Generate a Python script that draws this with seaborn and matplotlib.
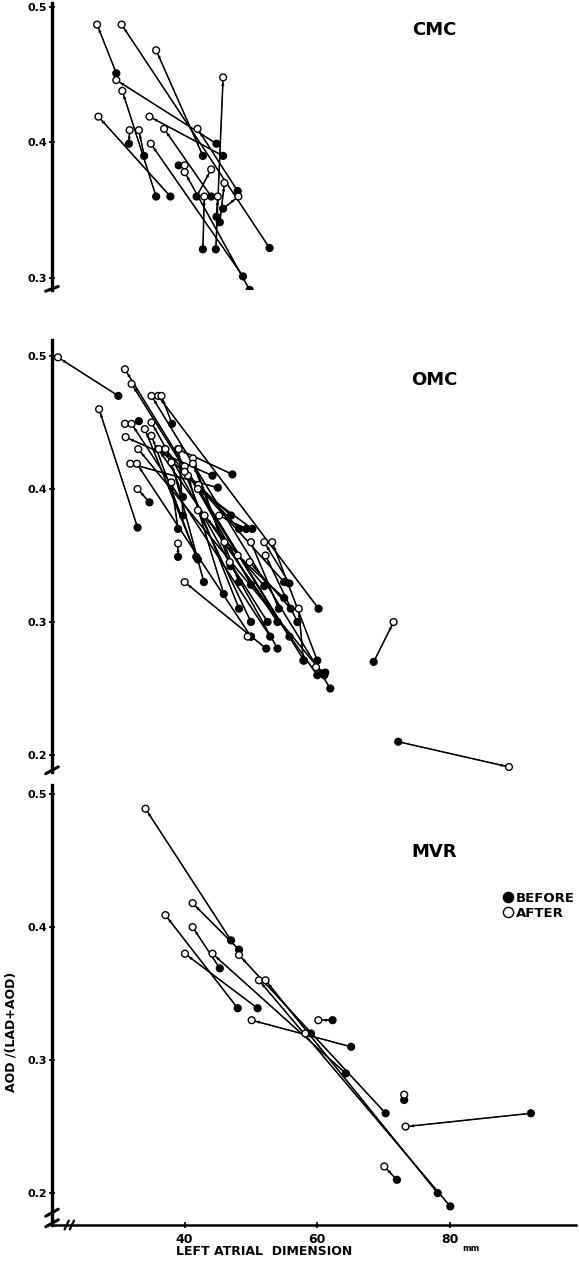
import matplotlib.pyplot as plt
import seaborn as sns
import pandas as pd

# CMC: before (filled) -> after (open), paired by index
cmc_before_x = [29.7, 52.8, 42.75, 44.8, 44.7, 35.7, 37.85, 45.8, 31.6, 33.9, 44.0, 39.1, 48.0, 48.8, 49.8, 41.8, 45.3, 42.75, 45.8, 44.8]
cmc_before_y = [0.451, 0.322, 0.390, 0.399, 0.321, 0.360, 0.360, 0.390, 0.399, 0.390, 0.360, 0.383, 0.364, 0.301, 0.291, 0.360, 0.341, 0.321, 0.351, 0.345]
cmc_after_x = [26.8, 30.5, 35.7, 29.7, 45.8, 30.6, 27.0, 34.7, 31.7, 33.1, 36.9, 40.0, 41.95, 34.9, 40.0, 44.0, 46.0, 42.96, 48.1, 45.0]
cmc_after_y = [0.487, 0.487, 0.468, 0.446, 0.448, 0.438, 0.419, 0.419, 0.409, 0.409, 0.410, 0.383, 0.410, 0.399, 0.378, 0.380, 0.370, 0.360, 0.360, 0.360]

# OMC
omc_before_x = [30.0, 55.8, 58.0, 61.95, 60.2, 32.9, 33.1, 52.9, 54.0, 44.2, 61.05, 60.0, 55.0, 47.2, 45.0,
                50.0, 34.7, 48.2, 49.3, 54.2, 55.8, 60.0, 39.0, 52.3, 57.9, 50.0, 61.2, 72.2, 68.5, 38.1,
                42.9, 45.9, 50.2, 47.0, 46.9, 48.2, 50.0, 48.2, 50.0, 52.0, 39.75, 39.75, 39.0, 54.0, 55.0,
                57.0, 52.5, 56.0, 41.75, 42.0]
omc_before_y = [0.470, 0.289, 0.271, 0.250, 0.310, 0.371, 0.451, 0.289, 0.280, 0.410, 0.260, 0.260, 0.330, 0.411, 0.401,
                0.289, 0.390, 0.370, 0.370, 0.310, 0.329, 0.271, 0.349, 0.280, 0.271, 0.289, 0.262, 0.210, 0.270, 0.449,
                0.330, 0.321, 0.370, 0.380, 0.342, 0.330, 0.328, 0.310, 0.300, 0.327, 0.394, 0.380, 0.370, 0.300, 0.318,
                0.300, 0.300, 0.310, 0.349, 0.347]
omc_after_x = [20.9, 31.0, 32.0, 35.0, 36.0, 27.1, 31.0, 32.0, 35.0, 31.1, 33.0, 36.0, 37.0, 39.0, 31.8,
               32.8, 32.9, 42.1, 45.2, 50.0, 52.0, 53.2, 39.0, 40.0, 57.2, 49.5, 59.8, 88.9, 71.5, 36.5,
               38.0, 40.5, 42.0, 36.1, 41.25, 41.25, 40.0, 40.0, 42.0, 43.0, 37.1, 39.1, 38.0, 46.0, 48.0,
               52.2, 46.8, 49.8, 35.0, 34.0]
omc_after_y = [0.499, 0.490, 0.479, 0.470, 0.470, 0.460, 0.449, 0.449, 0.450, 0.439, 0.430, 0.430, 0.430, 0.430, 0.419,
               0.419, 0.400, 0.403, 0.380, 0.360, 0.360, 0.360, 0.359, 0.330, 0.310, 0.289, 0.266, 0.191, 0.300, 0.470,
               0.420, 0.410, 0.400, 0.430, 0.423, 0.419, 0.417, 0.413, 0.384, 0.380, 0.430, 0.430, 0.405, 0.360, 0.350,
               0.350, 0.345, 0.345, 0.440, 0.445]

# MVR
mvr_before_x = [47.0, 48.2, 48.0, 45.3, 51.0, 64.3, 70.3, 80.05, 78.15, 65.1, 62.3, 59.05, 73.1, 92.2, 72.0]
mvr_before_y = [0.390, 0.383, 0.339, 0.369, 0.339, 0.290, 0.260, 0.190, 0.200, 0.310, 0.330, 0.320, 0.270, 0.260, 0.210]
mvr_after_x = [34.1, 41.2, 37.1, 41.2, 40.05, 44.2, 48.2, 51.2, 52.2, 50.1, 60.15, 58.2, 73.1, 73.3, 70.1]
mvr_after_y = [0.489, 0.418, 0.409, 0.400, 0.380, 0.380, 0.379, 0.360, 0.360, 0.330, 0.330, 0.320, 0.274, 0.250, 0.220]


def pairs_frame(bx, by, ax_, ay):
    rows = []
    for i in range(len(bx)):
        rows.append({"pair": i, "when": "BEFORE", "lad": bx[i], "ratio": by[i]})
        rows.append({"pair": i, "when": "AFTER", "lad": ax_[i], "ratio": ay[i]})
    return pd.DataFrame(rows)


sns.set_style("ticks")
plt.rcParams['font.family'] = ['DejaVu Sans']
plt.rcParams['font.weight'] = 'bold'
plt.rcParams.update({"text.color": "black", "axes.labelcolor": "black",
                     "xtick.color": "black", "ytick.color": "black",
                     "axes.edgecolor": "black"})

fig = plt.figure(figsize=(5.79, 12.65), dpi=100)
# [left, bottom, width, height] in figure fractions
ax1 = fig.add_axes([0.0898, 0.7708, 0.905, 0.2269])
ax2 = fig.add_axes([0.0898, 0.3897, 0.905, 0.3415])
ax3 = fig.add_axes([0.0898, 0.0316, 0.905, 0.3478])

panels = [
    (ax1, pairs_frame(cmc_before_x, cmc_before_y, cmc_after_x, cmc_after_y), "CMC", (0.291, 0.503), [0.3, 0.4, 0.5], 0.906),
    (ax2, pairs_frame(omc_before_x, omc_before_y, omc_after_x, omc_after_y), "OMC", (0.1872, 0.512), [0.2, 0.3, 0.4, 0.5], 0.907),
    (ax3, pairs_frame(mvr_before_x, mvr_before_y, mvr_after_x, mvr_after_y), "MVR", (0.176, 0.5068), [0.2, 0.3, 0.4, 0.5], 0.848),
]

for ax, df, name, ylim, yt, ty in panels:
    sns.lineplot(data=df, x="lad", y="ratio", units="pair", estimator=None, sort=False,
                 color="black", lw=1.1, ax=ax)
    # tiny arrow heads pointing at the "after" point
    for _, g in df.groupby("pair"):
        b = g[g["when"] == "BEFORE"].iloc[0]
        a = g[g["when"] == "AFTER"].iloc[0]
        ax.annotate("", xy=(a["lad"], a["ratio"]), xytext=(b["lad"], b["ratio"]),
                    arrowprops=dict(arrowstyle="-|>", color="black", lw=0.6,
                                    shrinkA=0, shrinkB=3.5, mutation_scale=4))
    sns.scatterplot(data=df, x="lad", y="ratio", hue="when", hue_order=["BEFORE", "AFTER"],
                    palette={"BEFORE": "black", "AFTER": "white"}, edgecolor="black",
                    linewidth=1.0, s=24, zorder=3, ax=ax, legend=(name == "MVR"))
    ax.set_xlim(20, 99)
    ax.set_ylim(*ylim)
    ax.set_yticks(yt)
    ax.set_yticklabels([f"{v:.1f}" for v in yt], fontsize=8, fontweight="bold")
    ax.tick_params(axis="y", direction="inout", length=5, width=1.2, pad=1)
    ax.spines["left"].set_linewidth(2.4)
    ax.spines["top"].set_visible(False)
    ax.spines["right"].set_visible(False)
    ax.set_ylabel("")
    ax.set_xlabel("")
    ax.text(0.73, ty, name, transform=ax.transAxes, fontsize=13, fontweight="bold",
            ha="center", va="center")
    # break mark at bottom of the y axis
    ax.plot([-0.012, 0.012], [-0.004, 0.012], transform=ax.transAxes, color="black",
            lw=2.2, clip_on=False)

for ax in (ax1, ax2):
    ax.spines["bottom"].set_visible(False)
    ax.set_xticks([])

# bottom panel x axis
ax3.spines["bottom"].set_linewidth(1.8)
ax3.set_xticks([40, 60, 80])
ax3.set_xticklabels(["40", "60", "80"], fontsize=9, fontweight="bold")
ax3.tick_params(axis="x", direction="inout", length=5, width=1.2, pad=3)
ax3.text(81.8, 0.176 - 0.0145, "mm", fontsize=6, fontweight="bold", va="top", ha="left")
ax3.plot([-0.012, 0.012], [0.02, 0.036], transform=ax3.transAxes, color="black", lw=2.2, clip_on=False)
ax3.plot([0.02, 0.044], [-0.008, 0.008], transform=ax3.transAxes, color="white", lw=5, clip_on=False)
ax3.plot([0.024, 0.032], [-0.010, 0.010], transform=ax3.transAxes, color="black", lw=1.6, clip_on=False)
ax3.plot([0.034, 0.042], [-0.010, 0.010], transform=ax3.transAxes, color="black", lw=1.6, clip_on=False)

ax3.set_xlabel("LEFT ATRIAL  DIMENSION", fontsize=9, fontweight="bold")
ax3.xaxis.set_label_coords(0.404, -0.045)
ax3.set_ylabel("AOD /(LAD+AOD)", fontsize=9, fontweight="bold")
ax3.yaxis.set_label_coords(-0.065, 0.44)

leg = ax3.legend(loc="upper left", bbox_to_anchor=(0.863, 0.757), frameon=False,
                 handlelength=0.6, handletextpad=0.3, labelspacing=0.15, borderaxespad=0,
                 borderpad=0, prop={"size": 9.5, "weight": "bold"}, markerscale=1.5)

fig.savefig("out.png", dpi=100)
